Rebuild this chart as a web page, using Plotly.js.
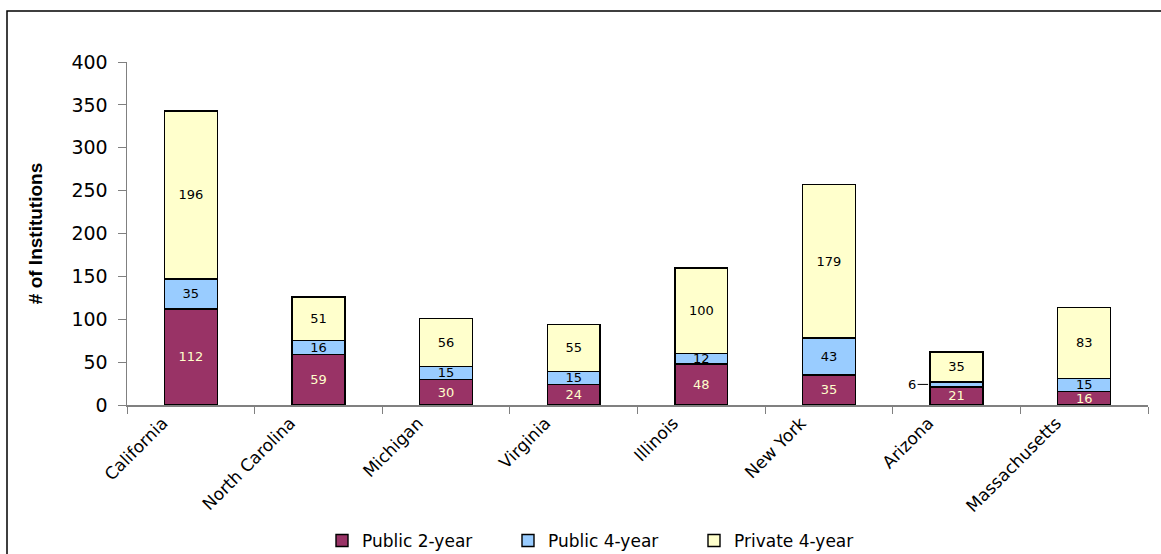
<!DOCTYPE html>
<html>
<head>
<meta charset="utf-8">
<script src="https://cdn.plot.ly/plotly-3.0.1.min.js"></script>
<style>html,body{margin:0;padding:0;background:#fff;}#chart{width:1161px;height:554px;}</style>
</head>
<body>
<div id="chart"></div>
<script>
const states = ['California','North Carolina','Michigan','Virginia','Illinois','New York','Arizona','Massachusetts'];
const public2 = [112, 59, 30, 24, 48, 35, 21, 16];
const public4 = [35, 16, 15, 15, 12, 43, 6, 15];
const private4 = [196, 51, 56, 55, 100, 179, 35, 83];
const seriesNames = ['Public 2-year','Public 4-year','Private 4-year'];
const yTicks = [0, 50, 100, 150, 200, 250, 300, 350, 400];

const outsideLabelState = 'Arizona';
const barWidth = 0.415;
const font = '"DejaVu Sans", Arial, sans-serif';
const afont = 'Arial, "Liberation Sans", sans-serif';

function mk(name, vals, color, textColor, hideIdx) {
  return {
    type: 'bar', name: name, x: states, y: vals,
    width: barWidth,
    marker: {color: color, line: {color: '#000', width: 1.4}},
    text: vals.map((v, i) => i === hideIdx ? '' : String(v)),
    textposition: 'inside', insidetextanchor: 'middle', textangle: 0,
    textfont: {family: font, size: 13, color: textColor},
    constraintext: 'none',
    hoverinfo: 'x+y'
  };
}
const ai = states.indexOf(outsideLabelState);
const data = [
  mk(seriesNames[0], public2, '#993366', '#FFFFCC', -1),
  mk(seriesNames[1], public4, '#99CCFF', '#000000', ai),
  mk(seriesNames[2], private4, '#FFFFCC', '#000000', -1)
];

const layout = {
  width: 1161, height: 554,
  barmode: 'stack',
  margin: {l: 127, r: 13, t: 62, b: 149, autoexpand: false},
  paper_bgcolor: '#fff', plot_bgcolor: '#fff',
  showlegend: true,
  legend: {orientation: 'h', x: (322 - 127) / 1021, xanchor: 'left', y: -(541 - 405) / 343, yanchor: 'middle',
    font: {family: font, size: 17, color: '#000'}, traceorder: 'normal', itemwidth: 30,
    entrywidth: 141},
  xaxis: {
    type: 'category', tickson: 'boundaries', ticks: 'outside', ticklen: 7, tickcolor: '#808080',
    showline: true, linecolor: '#808080', linewidth: 1.5, showgrid: false, automargin: false,
    tickangle: -45, tickfont: {family: font, size: 17, color: '#000'}, ticklabelshift: -28,
    range: [-0.5, states.length - 0.5], fixedrange: true
  },
  yaxis: {
    range: [0, 400], tickvals: yTicks, ticktext: yTicks.map(String), automargin: false,
    ticks: 'outside', ticklen: 8, tickcolor: '#808080', ticklabelstandoff: 6,
    showline: true, linecolor: '#808080', linewidth: 1.5, showgrid: false, zeroline: false,
    tickfont: {family: font, size: 19, color: '#000'},
    title: {text: '<b># of Institutions</b>', font: {family: afont, size: 19, color: '#000'}, standoff: 24}
  },
  annotations: [{
    x: ai - barWidth / 2, y: public2[ai] + public4[ai] / 2, xref: 'x', yref: 'y',
    text: String(public4[ai]), showarrow: true, arrowhead: 0, arrowwidth: 1, arrowcolor: '#000',
    ax: -18, ay: 0, standoff: 2, font: {family: font, size: 13, color: '#000'}
  }],
  shapes: [{
    type: 'rect', xref: 'paper', yref: 'paper',
    x0: (7 - 127) / 1021, x1: (1170 - 127) / 1021,
    y0: -(565 - 405) / 343, y1: 1 + (62 - 11) / 343,
    line: {color: '#000', width: 1.5}, fillcolor: 'rgba(0,0,0,0)', layer: 'below'
  }]
};

Plotly.newPlot('chart', data, layout, {staticPlot: true, displayModeBar: false});
</script>
</body>
</html>
